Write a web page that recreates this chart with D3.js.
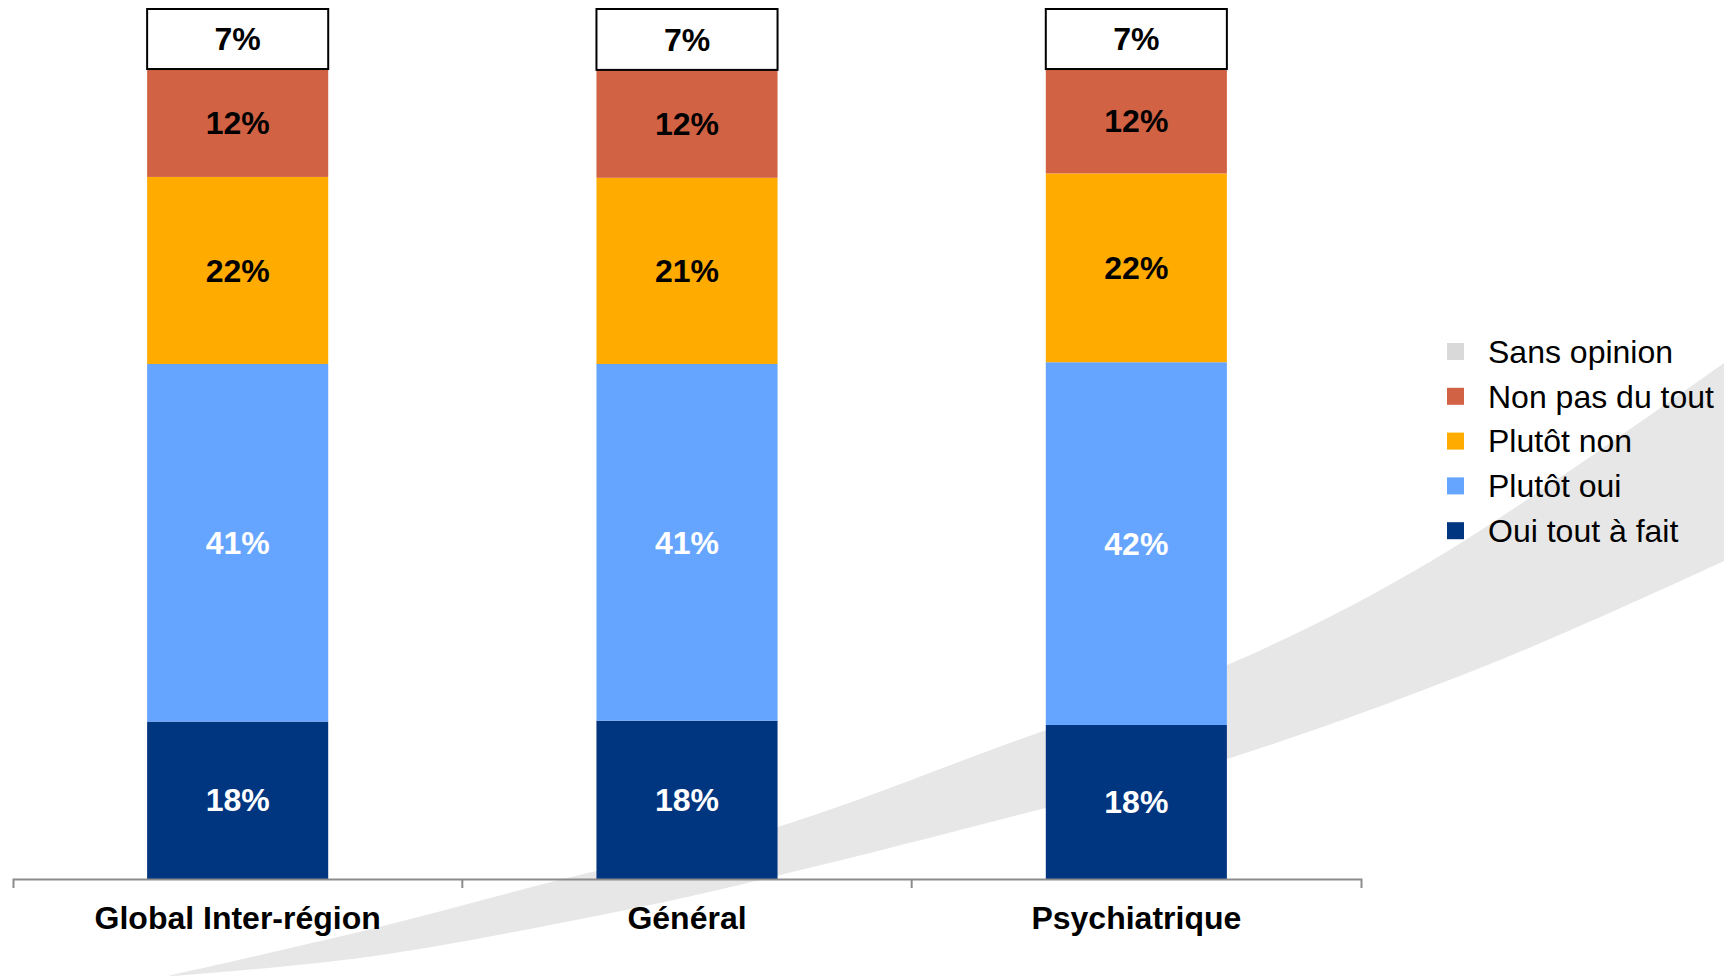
<!DOCTYPE html>
<html>
<head>
<meta charset="utf-8">
<script src="https://cdn.jsdelivr.net/npm/d3@7"></script>
<style>
  body { margin: 0; background: #fff; }
  svg { display: block; font-family: "Liberation Sans", Arial, sans-serif; }
</style>
</head>
<body>
<div id="chart"></div>
<script>
// categories and series (percent values)
var categories = ["Global Inter-région", "Général", "Psychiatrique"];
var ouiToutAFait = [18.1, 18.2, 17.7];
var plutotOui = [41.1, 41.0, 41.7];
var plutotNon = [21.5, 21.4, 21.7];
var nonPasDuTout = [12.4, 12.4, 12.0];
var sansOpinion = [6.9, 7.0, 6.9];

var seriesNames = ["Oui tout à fait", "Plutôt oui", "Plutôt non", "Non pas du tout", "Sans opinion"];
var seriesValues = [ouiToutAFait, plutotOui, plutotNon, nonPasDuTout, sansOpinion];
var seriesColors = ["#003580", "#66a5ff", "#ffab00", "#d26244", "#ffffff"];
var legendColors = ["#003580", "#66a5ff", "#ffab00", "#d26244", "#d9d9d9"];
var labelColors = ["#fff", "#fff", "#000", "#000", "#000"];

// background swoosh outline (decoration only)
var swooshTop = [[167, 976], [367, 930], [563, 879], [768, 830], [1018, 740], [1227, 665], [1433, 560], [1724, 363]];
var swooshBottom = [[1724, 561], [1500, 660], [1227, 759], [1018, 815], [768, 878], [640, 907], [367, 957], [173, 976]];

var width = 1724, height = 976;

var svg = d3.select("#chart").append("svg")
    .attr("width", width)
    .attr("height", height);

// draw the grey swoosh behind everything
var curve = d3.line().curve(d3.curveCatmullRom);
svg.append("path")
    .attr("d", curve(swooshTop) + "L" + curve(swooshBottom).slice(1) + "Z")
    .attr("fill", "#e7e7e7");

// build rows for the stack
var rows = categories.map(function(c, i) {
  var row = { category: c };
  seriesNames.forEach(function(s, j) { row[s] = seriesValues[j][i]; });
  return row;
});
var stacked = d3.stack().keys(seriesNames)(rows);

var x = d3.scaleBand()
    .domain(categories)
    .range([13, 1361])
    .padding(0);

var y = d3.scaleLinear()
    .domain([0, 100])
    .range([879, 9]);

var barWidth = x.bandwidth() * 0.403;

var layer = svg.selectAll("g.layer")
    .data(stacked)
  .enter().append("g")
    .attr("class", "layer");

layer.selectAll("rect")
    .data(function(d) { return d; })
  .enter().append("rect")
    .attr("x", function(d) { return x(d.data.category) + (x.bandwidth() - barWidth) / 2; })
    .attr("y", function(d) { return y(d[1]); })
    .attr("width", barWidth)
    .attr("height", function(d) { return y(d[0]) - y(d[1]); })
    .attr("fill", function(d, i, nodes) {
      return seriesColors[d3.select(nodes[i].parentNode).datum().index];
    })
    .attr("stroke", function(d, i, nodes) {
      return d3.select(nodes[i].parentNode).datum().key == "Sans opinion" ? "#000" : "none";
    })
    .attr("stroke-width", 2);

// value labels
layer.selectAll("text")
    .data(function(d) { return d; })
  .enter().append("text")
    .attr("x", function(d) { return x(d.data.category) + x.bandwidth() / 2; })
    .attr("y", function(d) { return (y(d[0]) + y(d[1])) / 2; })
    .attr("dy", "0.35em")
    .attr("text-anchor", "middle")
    .attr("font-size", 32)
    .attr("font-weight", "bold")
    .attr("fill", function(d, i, nodes) {
      return labelColors[d3.select(nodes[i].parentNode).datum().index];
    })
    .text(function(d) { return Math.round(d[1] - d[0]) + "%"; });

// x axis
var axis = svg.append("g")
    .attr("transform", "translate(0,879)")
    .call(d3.axisBottom(x).tickSizeInner(0).tickSizeOuter(9).tickPadding(27));

axis.select(".domain").attr("stroke", "#8c8c8c").attr("stroke-width", 2);
axis.selectAll(".tick line").remove();
axis.selectAll(".tick text")
    .attr("font-size", 32)
    .attr("font-weight", "bold")
    .attr("font-family", "'Liberation Sans', Arial, sans-serif")
    .attr("fill", "#000");

// separators between categories
axis.selectAll("line.sep")
    .data(categories.slice(1))
  .enter().append("line")
    .attr("class", "sep")
    .attr("x1", function(d) { return x(d); })
    .attr("x2", function(d) { return x(d); })
    .attr("y1", 0)
    .attr("y2", 9)
    .attr("stroke", "#8c8c8c")
    .attr("stroke-width", 2);

// legend (reverse order, top = Sans opinion)
var legend = svg.append("g")
    .attr("transform", "translate(1447,343)")
  .selectAll("g")
    .data(seriesNames.slice().reverse())
  .enter().append("g")
    .attr("transform", function(d, i) { return "translate(0," + (44.8 * i) + ")"; });

legend.append("rect")
    .attr("width", 17)
    .attr("height", 17)
    .attr("fill", function(d) { return legendColors[seriesNames.indexOf(d)]; });

legend.append("text")
    .attr("x", 41)
    .attr("y", 8.5)
    .attr("dy", "0.35em")
    .attr("font-size", 32)
    .attr("fill", "#000")
    .text(function(d) { return d; });
</script>
</body>
</html>
